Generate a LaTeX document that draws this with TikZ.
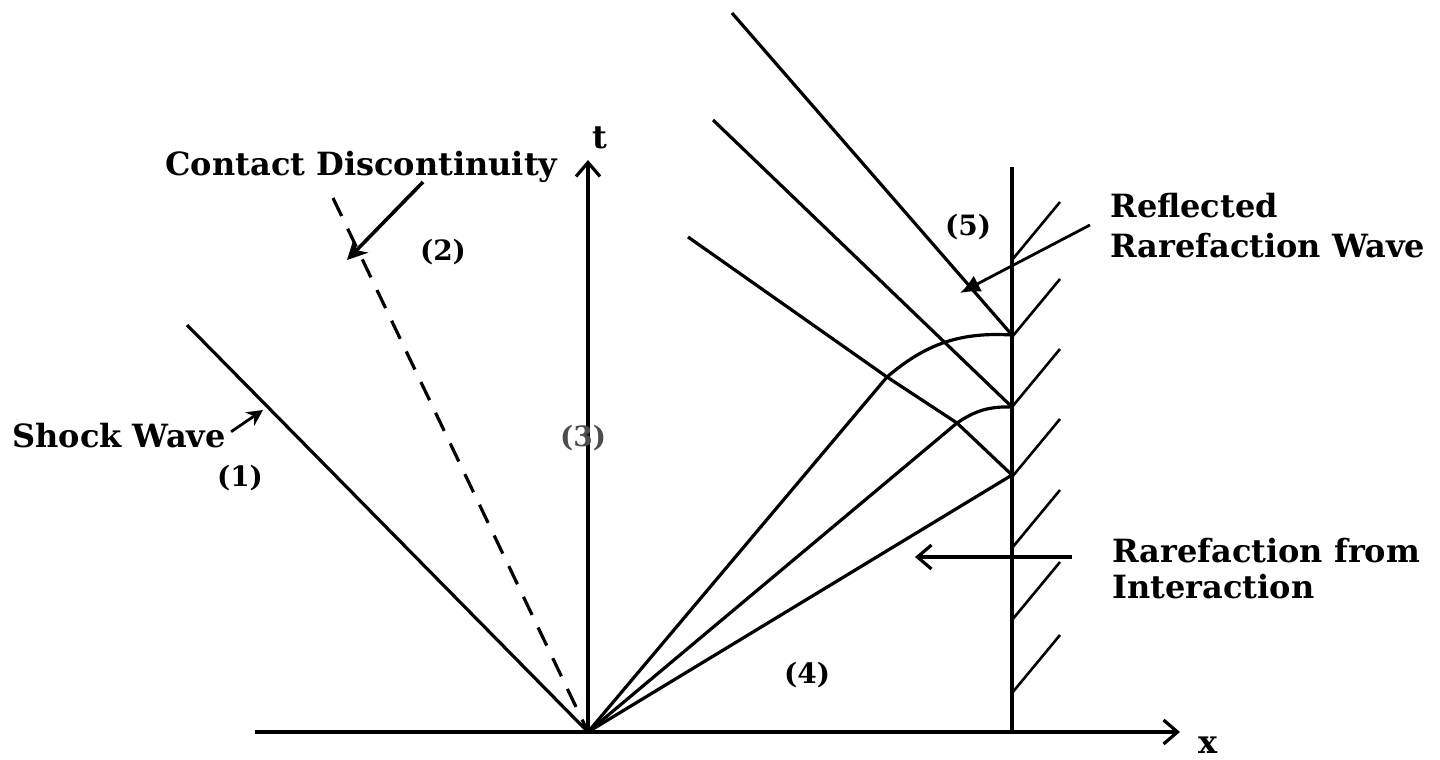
\documentclass[tikz,border=0pt]{standalone}
\usepackage{fontspec}
\setmainfont{DejaVu Serif}
\usetikzlibrary{arrows.meta}
\tikzset{
  wave/.style    = {line width=1.6pt,line join=round},
  contact/.style = {wave,dash pattern=on 10pt off 7pt},
  hatch/.style   = {line width=1.3pt},
  lbl/.style     = {font=\bfseries\fontsize{16}{20}\selectfont,inner sep=0pt},
  region/.style  = {font=\bfseries\fontsize{14}{16}\selectfont,inner sep=0pt},
  axis/.style    = {line width=1.6pt,-{Straight Barb[length=7pt,width=12pt,line width=1.6pt]}},
  pointer/.style = {line width=1.8pt,-{Stealth[length=10pt,width=10pt]}},
}
\begin{document}
\begin{tikzpicture}[x=0.5pt,y=-0.5pt]
  \useasboundingbox (0,0) rectangle (1440,760);
  % points of the x-t plane
  \coordinate (O)    at (588,732);
  \coordinate (xbeg) at (255,732);
  \coordinate (xend) at (1180,732);
  \coordinate (tend) at (588,160);
  \coordinate (W0)   at (1012,732);
  \coordinate (Wtop) at (1012,167);
  \coordinate (S)    at (187,325);
  \coordinate (C)    at (333,198);
  \coordinate (A)    at (887,377);
  \coordinate (B)    at (957,423);
  \coordinate (R1)   at (1012,335);
  \coordinate (R2)   at (1012,407);
  \coordinate (R3)   at (1012,475);
  \coordinate (Q1)   at (732,13);
  \coordinate (Q2)   at (713,120);
  \coordinate (Q3)   at (688,237);
  % axes and wall
  \draw[axis] (xbeg) -- (xend);
  \draw[axis] (O) -- (tend);
  \draw[wave] (W0) -- (Wtop);
  \foreach \y in {260,337,407,477,548,620,693}
    \draw[hatch] (1012,\y) -- ++(48,-58);
  % waves
  \draw[wave] (O) -- (S);
  \draw[contact] (C) -- (O);
  \draw[wave] (O) -- (A) to[bend left=22] (R1);
  \draw[wave] (O) -- (B) to[bend left=18] (R2);
  \draw[wave] (O) -- (R3);
  \draw[wave] (R1) -- (Q1);
  \draw[wave] (R2) -- (Q2);
  \draw[wave] (R3) -- (B) -- (A) -- (Q3);
  % regions
  \node[region] (r1) at (240,478) {(1)};
  \node[region] (r2) at (443,252) {(2)};
  \node[region,text=black!70] (r3) at (583,438) {(3)};
  \node[region] (r4) at (807,675) {(4)};
  \node[region] (r5) at (968,227) {(5)};
  \node[lbl] (tlbl) at (600,138) {t};
  \node[lbl] (xlbl) at (1208,745) {x};
  % labels with pointers
  \node[lbl,anchor=base west] (shocklbl) at (12,447) {Shock Wave};
  \coordinate (shockhit) at (263,410);
  \draw[line width=1.4pt,-{Stealth[length=8pt,width=8pt]},shorten <=3pt]
    (shocklbl.east) -- (shockhit);
  \node[lbl,anchor=base west] (contactlbl) at (165,175) {Contact Discontinuity};
  \coordinate (contacttail) at (423,182);
  \coordinate (contacthit)  at (347,260);
  \draw[pointer] (contacttail) -- (contacthit);
  \node[lbl,anchor=base west,align=left] (refllbl) at (1110,257)
    {Reflected\\Rarefaction Wave};
  \coordinate (refltail) at (1090,225);
  \coordinate (reflhit)  at (960,293);
  \draw[line width=1.4pt,-{Latex[length=10pt,width=9pt]}] (refltail) -- (reflhit);
  \node[lbl,anchor=base west,align=left,font=\bfseries\fontsize{16}{18}\selectfont]
    (interlbl) at (1112,598) {Rarefaction from\\Interaction};
  \coordinate (intertail) at (1072,557);
  \coordinate (interhit)  at (915,557);
  \draw[axis] (intertail) -- (interhit);
\end{tikzpicture}
\end{document}
